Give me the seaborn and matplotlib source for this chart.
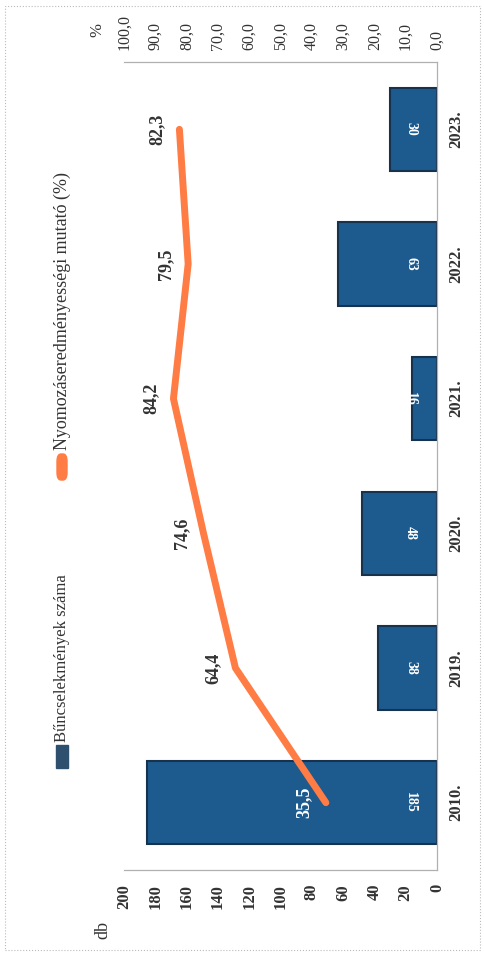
import matplotlib
matplotlib.use("Agg")
import matplotlib.pyplot as plt
import seaborn as sns
import pandas as pd
from matplotlib.patches import Rectangle, FancyBboxPatch

years = ["2010.", "2019.", "2020.", "2021.", "2022.", "2023."]
crimes = [185, 38, 48, 16, 63, 30]
clearance = [35.5, 64.4, 74.6, 84.2, 79.5, 82.3]
db_ticks = [0, 20, 40, 60, 80, 100, 120, 140, 160, 180, 200]
pct_ticks = [0, 10, 20, 30, 40, 50, 60, 70, 80, 90, 100]
legend_labels = ["Bűncselekmények száma", "Nyomozáseredményességi mutató (%)"]

BAR = "#1d5a8e"
EDGE = "#17324d"
ORANGE = "#ff7c45"
TXT = "#333333"

sns.set_theme(style="white")
plt.rcParams["font.family"] = ["Liberation Serif", "DejaVu Serif"]

df = pd.DataFrame({"ev": years, "db": crimes, "pct": clearance})
order = years[::-1]  # 2023 on top, 2010 at the bottom
df["pos"] = [order.index(y) for y in years]

W, H = 485, 956
fig = plt.figure(figsize=(W / 100, H / 100), dpi=100)
ax = fig.add_axes([124 / W, 1 - 870 / H, (437 - 124) / W, (870 - 62) / H])

sns.barplot(data=df, y="ev", x="db", order=order, orient="h", color=BAR,
            edgecolor=EDGE, linewidth=1.5, width=0.62, saturation=1, ax=ax)
ax.set_xlim(200, 0)
ax.set_xticks(db_ticks)
ax.set_xticklabels([str(t) for t in db_ticks], rotation=90, fontweight="bold",
                   fontsize=12, color=TXT)
ax.yaxis.tick_right()
ax.set_yticks(range(len(order)))
ax.set_yticklabels(order, rotation=90, va="center", fontweight="bold",
                   fontsize=12, color=TXT)
ax.tick_params(axis="y", length=0, pad=8)
ax.tick_params(axis="x", length=0, pad=10)
ax.set_xlabel("")
ax.set_ylabel("")

# bar value labels (upside down, near the base)
for _, r in df.iterrows():
    ax.annotate(str(r["db"]), (0, r["pos"]), xytext=(-19, 0),
                textcoords="offset points", rotation=270, ha="center",
                va="center", color="white", fontsize=10, fontweight="bold")

ax2 = ax.twiny()
sns.lineplot(data=df, x="pct", y="pos", sort=False, estimator=None,
             color=ORANGE, linewidth=5, ax=ax2)
ax2.set_xlim(100, 0)
ax2.set_xticks(pct_ticks)
ax2.set_xticklabels([f"{t:.1f}".replace(".", ",") for t in pct_ticks],
                    rotation=90, fontsize=11.5, color=TXT)
ax2.tick_params(axis="x", length=0, pad=9)
ax2.set_xlabel("")
ax2.set_ylabel("")
ax.set_ylim(5.5, -0.5)

for _, r in df.iterrows():
    col = "white" if r["pct"] < 40 else TXT
    ax2.annotate(f"{r['pct']:.1f}".replace(".", ","), (r["pct"], r["pos"]),
                 xytext=(-16, 0), textcoords="offset points", rotation=90,
                 ha="center", va="center", fontsize=13, fontweight="bold",
                 color=col)

for a in (ax, ax2):
    for s in a.spines.values():
        s.set_color("#b0b0b0")
        s.set_linewidth(0.8)
    a.spines["left"].set_visible(False)

# axis unit captions
fig.text(97 / W, 1 - 30 / H, "%", rotation=90, ha="center", va="center",
         fontsize=12, color=TXT)
fig.text(103 / W, 1 - 930 / H, "db", rotation=90, ha="center", va="center",
         fontsize=13, color=TXT)

# legend, drawn by hand because it is rotated
fig.patches.append(Rectangle((56 / W, 1 - 768 / H), 12 / W, 23 / H,
                             transform=fig.transFigure, color="#2e4f6e"))
fig.text(62 / W, 1 - 742 / H, legend_labels[0], rotation=90, ha="center",
         va="bottom", fontsize=12, color=TXT)
fig.patches.append(FancyBboxPatch((57 / W, 1 - 480 / H), 10 / W, 26 / H,
                                  boxstyle="round,pad=0,rounding_size=0.008",
                                  transform=fig.transFigure, color=ORANGE))
fig.text(62 / W, 1 - 450 / H, legend_labels[1], rotation=90, ha="center",
         va="bottom", fontsize=13, color=TXT)

# faint dotted frame
fig.patches.append(Rectangle((5 / W, 6 / H), 1 - 10 / W, 1 - 12 / H,
                             transform=fig.transFigure, fill=False,
                             linestyle=":", edgecolor="#bbbbbb", linewidth=0.8))

fig.savefig("out.png", dpi=100, facecolor="white")
